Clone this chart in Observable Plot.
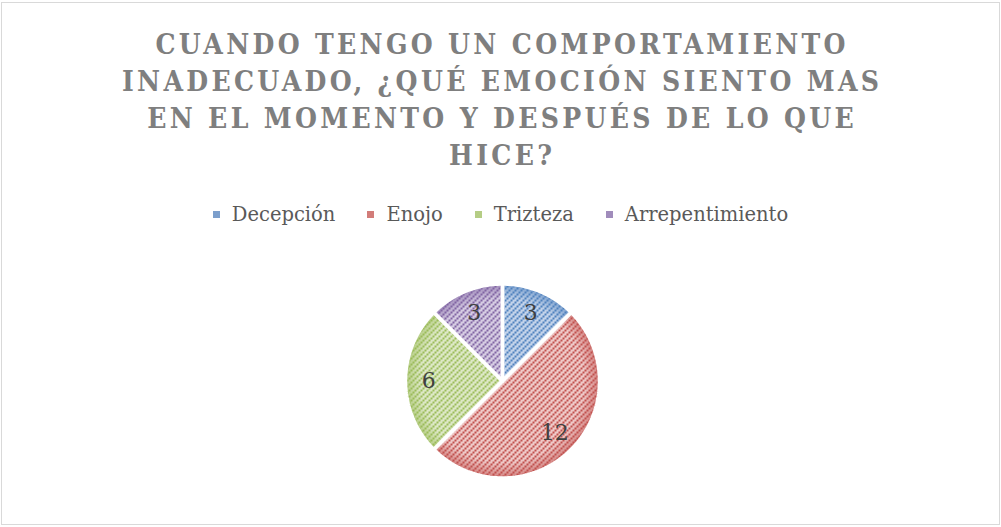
<!DOCTYPE html>
<html>
<head>
<meta charset="utf-8">
<script src="https://cdn.jsdelivr.net/npm/d3@7"></script>
<script src="https://cdn.jsdelivr.net/npm/@observablehq/plot@0.6"></script>
<style>
  body { margin: 0; background: #fff; }
  #wrap { position: relative; width: 1001px; height: 527px; overflow: hidden; background: #fff; }
  #frame { position: absolute; left: 1px; top: 2px; width: 999px; height: 523px; box-sizing: border-box; border: 1px solid #d9d9d9; }
  #title { position: absolute; left: 0; width: 1001px; top: 26px; text-align: center;
    font-family: "DejaVu Serif Condensed", "DejaVu Serif", serif; font-weight: bold; font-size: 28px;
    line-height: 37px; color: #7f7f7f; white-space: nowrap; }
  #legend { position: absolute; left: 0; width: 1001px; top: 203px; height: 22px; display: flex;
    justify-content: center; align-items: center; gap: 32px;
    font-family: "DejaVu Serif", "Liberation Serif", serif; font-size: 19.5px; color: #595959; }
  .item { display: flex; align-items: center; gap: 12px; }
  .sw { width: 7px; height: 7px; }
  #chart { position: absolute; left: 0; top: 235px; }
</style>
</head>
<body>
<div id="wrap">
  <div id="frame"></div>
  <div id="title"></div>
  <div id="legend"></div>
  <div id="chart"></div>
</div>
<script>
// ---- data ----
const titleLines = [
  "CUANDO TENGO UN COMPORTAMIENTO",
  "INADECUADO, ¿QUÉ EMOCIÓN SIENTO MAS",
  "EN EL MOMENTO Y DESPUÉS DE LO QUE",
  "HICE?"
];
const categories = ["Decepción", "Enojo", "Trizteza", "Arrepentimiento"];
const values = [3, 12, 6, 3];
const colors = ["#4f81bd", "#c0504d", "#9bbb59", "#8064a2"];
const tints = ["#c3d3ea", "#efc9c8", "#dde8c6", "#d6cce3"];
const swatches = ["#7c9fcc", "#d27c79", "#b5cd85", "#a08cbb"];

// ---- title ----
const titleEl = document.getElementById("title");
titleEl.innerHTML = titleLines.map(l => `<div>${l}</div>`).join("");
// fit letter spacing so first line spans ~690px
(function fit() {
  const span = document.createElement("span");
  span.textContent = titleLines[0];
  span.style.letterSpacing = "0px";
  titleEl.firstChild.textContent = "";
  titleEl.firstChild.appendChild(span);
  const w = span.getBoundingClientRect().width;
  const ls = Math.max(0, (690 - w) / (titleLines[0].length - 1));
  titleEl.firstChild.textContent = titleLines[0];
  titleEl.style.letterSpacing = ls + "px";
  titleEl.style.textIndent = ls + "px";
})();

// ---- legend ----
const legendEl = document.getElementById("legend");
categories.forEach((c, i) => {
  const it = document.createElement("div");
  it.className = "item";
  it.innerHTML = `<div class="sw" style="background:${swatches[i]}"></div><span>${c}</span>`;
  legendEl.appendChild(it);
});

// ---- pie geometry via d3.pie ----
const arcs = d3.pie().sort(null).value(d => d)(values);
const rows = [];
const labels = [];
arcs.forEach((a, i) => {
  const cat = categories[i];
  rows.push({cat, x: 0, y: 0});
  const n = Math.max(2, Math.ceil((a.endAngle - a.startAngle) / (Math.PI / 120)));
  for (let k = 0; k <= n; k++) {
    const t = a.startAngle + (a.endAngle - a.startAngle) * k / n;
    rows.push({cat, x: Math.sin(t), y: Math.cos(t)});
  }
  rows.push({cat, x: 0, y: 0});
  const m = (a.startAngle + a.endAngle) / 2;
  labels.push({cat, value: values[i], x: 0.76 * Math.sin(m), y: 0.76 * Math.cos(m)});
});

const W = 1001, H = 290, CX = 502, CY = 145.5, R = 97;
const marks = [];
categories.forEach((c, i) => {
  const d = rows.filter(r => r.cat === c);
  marks.push(Plot.line(d, {x: "x", y: "y", fill: `url(#pat${i})`, stroke: "none", curve: "linear"}));
  marks.push(Plot.line(d, {x: "x", y: "y", fill: `url(#glow${i})`, stroke: "none", curve: "linear"}));
});
categories.forEach((c, i) => {
  const d = rows.filter(r => r.cat === c);
  marks.push(Plot.line(d, {x: "x", y: "y", fill: "none", stroke: "white", strokeWidth: 3.5,
    strokeLinejoin: "miter", strokeMiterlimit: 4, curve: "linear"}));
});
marks.push(Plot.text(labels, {x: "x", y: "y", text: d => String(d.value), fill: "#404040",
  fontSize: 22, fontFamily: "DejaVu Serif, Liberation Serif, serif"}));

const svg = Plot.plot({
  width: W, height: H, margin: 0,
  x: {domain: [-1, 1], range: [CX - R, CX + R], axis: null},
  y: {domain: [-1, 1], range: [CY + R, CY - R], axis: null},
  style: {background: "transparent", overflow: "visible"},
  marks
});

// pattern and glow defs
const defs = d3.select(svg).insert("defs", ":first-child");
colors.forEach((col, i) => {
  const p = defs.append("pattern").attr("id", `pat${i}`)
    .attr("patternUnits", "userSpaceOnUse").attr("width", 6).attr("height", 6);
  p.append("rect").attr("width", 6).attr("height", 6).attr("fill", tints[i]);
  [[0, 4], [2, 2], [4, 0]].forEach(([x, y]) =>
    p.append("rect").attr("x", x).attr("y", y).attr("width", 2).attr("height", 2).attr("fill", col));
  const g = defs.append("radialGradient").attr("id", `glow${i}`)
    .attr("gradientUnits", "userSpaceOnUse").attr("cx", CX).attr("cy", CY).attr("r", R);
  g.append("stop").attr("offset", 0.84).attr("stop-color", col).attr("stop-opacity", 0);
  g.append("stop").attr("offset", 1).attr("stop-color", col).attr("stop-opacity", 0.6);
});

document.getElementById("chart").appendChild(svg);
</script>
</body>
</html>
